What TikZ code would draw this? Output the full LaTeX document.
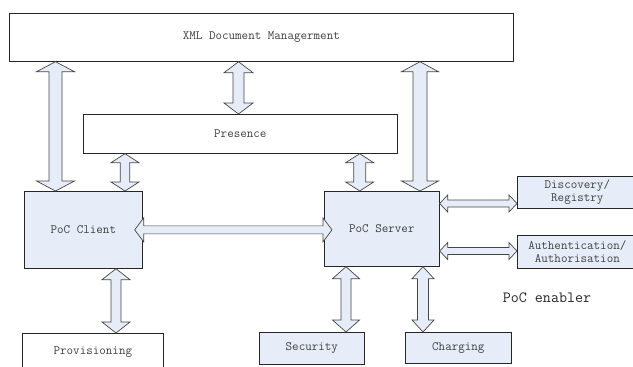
\documentclass[tikz,border=0pt]{standalone}
\usetikzlibrary{calc}

\definecolor{pocblue}{RGB}{230,237,248}
\definecolor{edgegray}{RGB}{70,70,70}

% block double arrows: head half width, shaft half width, head length, end 1, end 2
\newcommand\vlink[5]{%
  \draw[blockarr] let \p1=(#4), \p2=(#5) in
    (\x1,\y1) -- ({\x1+#1pt},{\y1-#3pt}) -- ({\x1+#2pt},{\y1-#3pt})
    -- ({\x1+#2pt},{\y2+#3pt}) -- ({\x1+#1pt},{\y2+#3pt}) -- (\x1,\y2)
    -- ({\x1-#1pt},{\y2+#3pt}) -- ({\x1-#2pt},{\y2+#3pt})
    -- ({\x1-#2pt},{\y1-#3pt}) -- ({\x1-#1pt},{\y1-#3pt}) -- cycle;}
\newcommand\hlink[5]{%
  \draw[blockarr] let \p1=(#4), \p2=(#5) in
    (\x1,\y1) -- ({\x1+#3pt},{\y1+#1pt}) -- ({\x1+#3pt},{\y1+#2pt})
    -- ({\x2-#3pt},{\y1+#2pt}) -- ({\x2-#3pt},{\y1+#1pt}) -- (\x2,\y1)
    -- ({\x2-#3pt},{\y1-#1pt}) -- ({\x2-#3pt},{\y1-#2pt})
    -- ({\x1+#3pt},{\y1-#2pt}) -- ({\x1+#3pt},{\y1-#1pt}) -- cycle;}

\begin{document}
\begin{tikzpicture}[
  x=1pt, y=-1pt,
  font=\ttfamily\fontsize{12.7}{13}\selectfont,
  box/.style={draw=black!85,line width=0.7pt,inner sep=0pt,anchor=north west,
              align=center,fill=white,text=black!75},
  bluebox/.style={box,fill=pocblue},
  blockarr/.style={draw=edgegray,fill=pocblue,line width=0.7pt,line join=miter},
]
\useasboundingbox (0,0) rectangle (633,367);
\clip (0,0) rectangle (633,367);

%% ---- Top layer -------------------------------------------------------------
\node[box, minimum width=504, minimum height=48] (xdm) at (9,13) {XML Document Managerment};
\node[box, minimum width=314, minimum height=39] (presence) at (83,114) {Presence};

%% ---- PoC client and server -------------------------------------------------
\node[bluebox, minimum width=118, minimum height=77] (client) at (24,191) {PoC Client};
\node[bluebox, minimum width=115, minimum height=75] (server) at (324,191) {PoC Server};

%% ---- Side enablers ---------------------------------------------------------
\node[bluebox, minimum width=120, minimum height=32] (registry) at (517,176) {Discovery/\\Registry};
\node[bluebox, minimum width=120, minimum height=33] (auth) at (517,235) {Authentication/\\Authorisation};
\node[font=\ttfamily\fontsize{15.6}{17}\selectfont, text=black!85] (enabler) at (547,298) {PoC enabler};

%% ---- Bottom row ------------------------------------------------------------
\node[box, minimum width=141, minimum height=38] (prov) at (22,333) {Provisioning};
\node[bluebox, minimum width=105, minimum height=32] (security) at (259,332) {Security};
\node[bluebox, minimum width=106, minimum height=31] (charging) at (405,332) {Charging};

%% ---- Links to XML document management
\vlink{19}{6.5}{10}{[xshift=46.5pt]xdm.south west}{client.north}
\vlink{14.5}{5.5}{11}{[xshift=229.5pt]xdm.south west}{presence.north}
\vlink{18.5}{7}{10}{[xshift=411pt]xdm.south west}{server.north}

%% ---- Links to presence
\vlink{14}{4.8}{9}{[xshift=42pt]presence.south west}{client.north}
\vlink{14}{6}{9}{[xshift=-38pt]presence.south east}{server.north}

%% ---- Client <-> server
\hlink{12}{4}{9}{[xshift=-8pt]client.east}{[xshift=8pt]server.west}

%% ---- Server <-> enablers
\hlink{8.5}{3.5}{8}{[yshift=-12.5pt]server.north east}{registry.west}
\hlink{8.5}{3.5}{8}{[yshift=-60pt]server.north east}{auth.west}

%% ---- Bottom links
\vlink{14}{5}{11}{[xshift=92pt]client.south west}{prov.north}
\vlink{13.5}{5}{12}{[xshift=22pt]server.south west}{security.north}
\vlink{11}{5.5}{12}{[xshift=99pt]server.south west}{charging.north}

\end{tikzpicture}
\end{document}
